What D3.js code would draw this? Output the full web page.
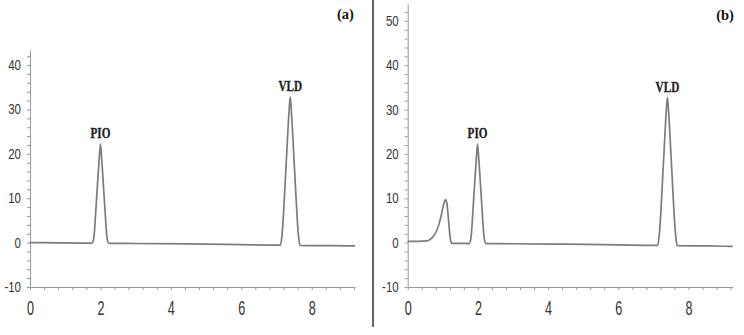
<!DOCTYPE html>
<html>
<head>
<meta charset="utf-8">
<script src="https://cdn.jsdelivr.net/npm/d3@7"></script>
<style>
  body { margin: 0; background: #fff; }
  svg { display: block; }
</style>
</head>
<body>
<div id="chart"></div>
<script>
// Data (time in min, signal in mAU)
var timeA = [0, 0.8, 1.5, 1.75, 1.79, 1.82, 1.85, 1.88, 1.91, 1.94, 1.97, 2.00, 2.03, 2.06, 2.09, 2.12, 2.15, 2.18, 2.21, 2.25,
  3.0, 4.5, 6.0, 7.11, 7.15, 7.18, 7.21, 7.24, 7.27, 7.30, 7.33, 7.36, 7.39, 7.42, 7.45, 7.48, 7.51, 7.54, 7.57, 7.60,
  7.63, 7.67, 8.5, 9.23];
var signalA = [0.0, -0.05, -0.1, -0.12, 0.2, 1.6, 4.8, 8.6, 12.3, 16.0, 19.5, 22.2, 19.5, 16.0, 12.3, 8.6, 4.8, 1.6, 0.2, -0.15,
  -0.2, -0.3, -0.45, -0.55, 1.2, 4.0, 8.0, 12.5, 17.0, 21.5, 26.0, 30.0, 32.8, 30.0, 26.0, 21.5, 17.0, 12.5, 8.0, 4.0,
  1.2, -0.6, -0.68, -0.75];

var timeB = [0, 0.3, 0.55, 0.65, 0.75, 0.83, 0.90, 0.96, 1.01, 1.05, 1.08, 1.11, 1.14, 1.17, 1.20, 1.23, 1.26, 1.5,
  1.74, 1.78, 1.81, 1.84, 1.87, 1.90, 1.93, 1.96, 1.99, 2.02, 2.05, 2.08, 2.11, 2.14, 2.17, 2.20, 2.24,
  3.0, 4.5, 6.0, 7.12, 7.16, 7.19, 7.22, 7.25, 7.28, 7.31, 7.34, 7.37, 7.40, 7.43, 7.46, 7.49, 7.52, 7.55, 7.58, 7.61,
  7.64, 7.68, 8.5, 9.26];
var signalB = [0.3, 0.3, 0.4, 0.8, 1.6, 2.8, 4.4, 6.3, 8.2, 9.3, 9.7, 9.1, 7.2, 4.5, 1.8, 0.2, -0.15, -0.15,
  -0.2, 0.2, 1.6, 4.8, 8.6, 12.3, 16.0, 19.5, 22.2, 19.5, 16.0, 12.3, 8.6, 4.8, 1.6, 0.2, -0.2,
  -0.25, -0.35, -0.5, -0.6, 1.2, 4.0, 8.0, 12.5, 17.0, 21.5, 26.0, 30.0, 32.7, 30.0, 26.0, 21.5, 17.0, 12.5, 8.0, 4.0,
  1.2, -0.7, -0.75, -0.85];

var peakNames = ["PIO", "VLD"];
var peakTimesA = [2.00, 7.39];
var peakHeightsA = [22.2, 32.8];
var peakTimesB = [1.99, 7.40];
var peakHeightsB = [22.2, 32.7];

var xTickLabels = [0, 2, 4, 6, 8];
var yTickLabelsA = [-10, 0, 10, 20, 30, 40];
var yTickLabelsB = [-10, 0, 10, 20, 30, 40, 50];

var W = 744, H = 335;

var svg = d3.select("#chart").append("svg")
  .attr("width", W)
  .attr("height", H);

function drawPanel(opt) {
  var x = d3.scaleLinear().domain([0, opt.xMax]).range([opt.left, opt.right]);
  var y = d3.scaleLinear().domain([-10, opt.yMax]).range([opt.bottom, opt.top]);

  var g = svg.append("g");

  // y axis: minor ticks every 2, labels every 10
  var yAxis = d3.axisLeft(y)
    .tickValues(d3.range(-10, opt.yMax, 2))
    .tickSize(3)
    .tickSizeOuter(0)
    .tickFormat(function(d) { return opt.yLabels.indexOf(d) >= 0 ? d : ""; });

  var ya = g.append("g")
    .attr("transform", "translate(" + opt.left + ",0)")
    .call(yAxis);
  ya.selectAll("text")
    .attr("x", 0)
    .attr("transform", "translate(-9,0) scale(0.82,1)")
    .style("font-family", "'Liberation Sans', Arial, sans-serif")
    .style("font-size", "14px")
    .style("fill", "#333");

  // x axis: minor ticks every 0.4, labels on even minutes
  var xAxis = d3.axisBottom(x)
    .tickValues(d3.range(0, opt.xMax, 0.4))
    .tickSize(3)
    .tickSizeOuter(0)
    .tickFormat(function(d) {
      var r = Math.round(d * 10) / 10;
      return xTickLabels.indexOf(r) >= 0 ? r : "";
    });

  var xa = g.append("g")
    .attr("transform", "translate(0," + opt.bottom + ")")
    .call(xAxis);
  xa.selectAll("text")
    .attr("y", 0)
    .attr("dy", "0.71em")
    .attr("transform", "translate(0,13) scale(0.9,1.5)")
    .style("font-family", "'Liberation Sans', Arial, sans-serif")
    .style("font-size", "14px")
    .style("fill", "#333");

  g.selectAll(".domain, .tick line")
    .attr("stroke", "#999")
    .attr("stroke-width", 1);

  // chromatogram trace
  var pts = opt.time.map(function(t, i) { return [t, opt.signal[i]]; });
  var line = d3.line()
    .x(function(d) { return x(d[0]); })
    .y(function(d) { return y(d[1]); })
    .curve(d3.curveMonotoneX);

  g.append("path")
    .datum(pts)
    .attr("fill", "none")
    .attr("stroke", "#7c7c7c")
    .attr("stroke-width", 1.7)
    .attr("stroke-linejoin", "round")
    .attr("d", line);

  // peak labels
  g.selectAll(".peak-label")
    .data(peakNames)
    .enter().append("text")
    .attr("class", "peak-label")
    .attr("transform", function(d, i) {
      return "translate(" + x(opt.peakTimes[i]) + "," + (y(opt.peakHeights[i]) - 6) + ") scale(0.8,1)";
    })
    .attr("text-anchor", "middle")
    .style("font-family", "'Liberation Serif', 'Times New Roman', serif")
    .style("font-weight", "bold")
    .style("font-size", "14px")
    .style("fill", "#222")
    .style("stroke", "#222")
    .style("stroke-width", 0.3)
    .text(function(d) { return d; });

  // panel letter
  g.append("text")
    .attr("x", opt.tagX)
    .attr("y", opt.tagY)
    .attr("text-anchor", "middle")
    .style("font-family", "'Liberation Serif', 'Times New Roman', serif")
    .style("font-weight", "bold")
    .style("font-size", "14.5px")
    .style("fill", "#111")
    .text(opt.tag);
}

drawPanel({
  time: timeA, signal: signalA,
  peakTimes: peakTimesA, peakHeights: peakHeightsA,
  yLabels: yTickLabelsA,
  xMax: 9.23, yMax: 43.4,
  left: 30, right: 355, top: 50, bottom: 287,
  tag: "(a)", tagX: 345.5, tagY: 19
});

drawPanel({
  time: timeB, signal: signalB,
  peakTimes: peakTimesB, peakHeights: peakHeightsB,
  yLabels: yTickLabelsB,
  xMax: 9.26, yMax: 53.8,
  left: 407.7, right: 732.7, top: 4, bottom: 287,
  tag: "(b)", tagX: 725, tagY: 20
});

// divider between the two panels
svg.append("line")
  .attr("x1", 373).attr("x2", 373)
  .attr("y1", 0).attr("y2", 327)
  .attr("stroke", "#3c3c3c")
  .attr("stroke-width", 1.6);
</script>
</body>
</html>
